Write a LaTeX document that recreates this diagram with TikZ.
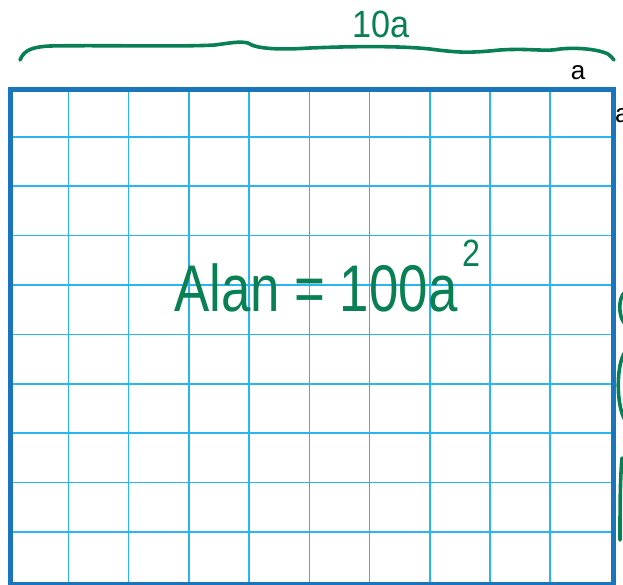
\documentclass[tikz,border=0pt]{standalone}
\usepackage{fontspec}
\setmainfont{Liberation Sans}
\definecolor{gridblue}{RGB}{41,182,240}
\definecolor{borderblue}{RGB}{26,117,188}
\definecolor{inkgreen}{RGB}{8,128,84}
\tikzset{
  gridline/.style={draw=gridblue, line width=1.6pt},
  ink/.style={draw=inkgreen, line width=3.6pt, line cap=round, line join=round},
  hand/.style={text=inkgreen, inner sep=0pt},
  lbl/.style={text=black, inner sep=0pt, font=\fontsize{26}{28}\selectfont}
}
\begin{document}
\begin{tikzpicture}[x=1pt,y=-1pt]
\useasboundingbox (0,0) rectangle (623,585);
% grid
\foreach \i in {1,...,9} {
  \draw[gridline] ({8.2+60.23*\i},87.3) -- ({8.2+60.23*\i},581.5);
  \draw[gridline] (8.2,{87.3+49.42*\i}) -- (610.5,{87.3+49.42*\i});
}
\node[draw=borderblue, line width=5pt, minimum width=602.3pt, minimum height=494.2pt, inner sep=0pt, anchor=north west] (sq) at (8.2,87.3) {};
% labels
\node[lbl, anchor=base] (atop) at (578,80) {a};
\node[lbl, anchor=base west] (aright) at (615,123) {a};
% brace
\draw[ink] (20,60) .. controls (24,50) and (32,47) .. (50,46)
  .. controls (100,45) and (180,47) .. (215,45)
  .. controls (230,43) and (240,41) .. (248,43)
  .. controls (256,49) and (280,50) .. (310,48)
  .. controls (360,46) and (400,46) .. (430,49)
  .. controls (460,53) and (470,53) .. (500,50)
  .. controls (530,48) and (545,52) .. (560,49)
  .. controls (580,47) and (600,50) .. (608,54)
  .. controls (611,56) and (612,58) .. (614,60);
% handwritten texts
\node[hand, anchor=center] (tena) at (381,24) {\scalebox{0.9}[1]{\fontsize{38}{40}\selectfont 10a}};
\node[hand, anchor=base west] (area) at (174,311) {\scalebox{0.8}[1]{\fontsize{66}{70}\selectfont Alan = 100a}};
\node[hand, anchor=base west] (sup) at (462,266) {\scalebox{0.85}[1]{\fontsize{38}{40}\selectfont 2}};
% cut-off marks at right edge
\draw[ink] (625,292) .. controls (618,298) and (618,316) .. (625,324);
\draw[ink] (625,352) .. controls (616,365) and (616,405) .. (625,420);
\draw[ink] (622,458) .. controls (620,480) and (620,510) .. (620,540);
\end{tikzpicture}
\end{document}
